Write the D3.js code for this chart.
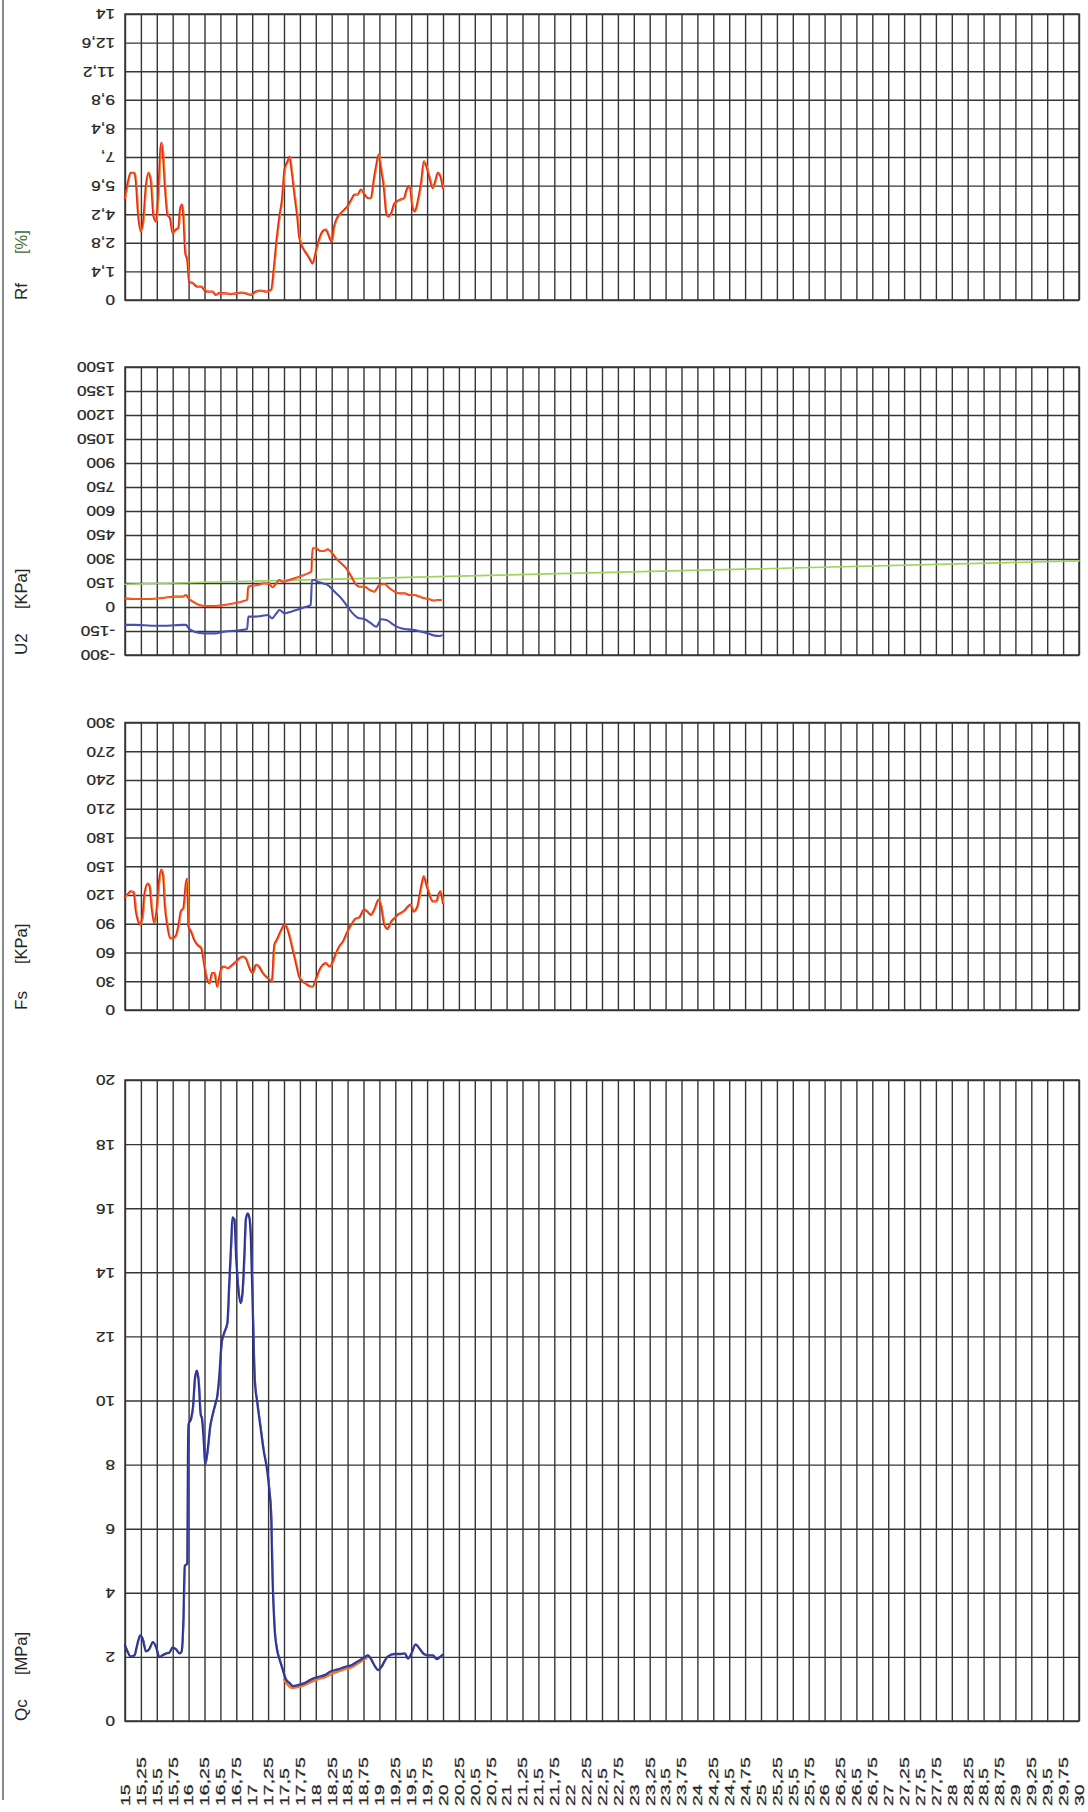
<!DOCTYPE html>
<html><head><meta charset="utf-8">
<script src="https://cdn.jsdelivr.net/npm/d3@7"></script>
<style>html,body{margin:0;padding:0;background:#fff}svg{display:block}</style>
</head><body>
<svg id="c" width="1088" height="1812"></svg>
<script>
// ---------- tick values & labels ----------
const depthTicks = [15,15.25,15.5,15.75,16,16.25,16.5,16.75,17,17.25,17.5,17.75,18,18.25,18.5,18.75,19,19.25,19.5,19.75,20,20.25,20.5,20.75,21,21.25,21.5,21.75,22,22.25,22.5,22.75,23,23.25,23.5,23.75,24,24.25,24.5,24.75,25,25.25,25.5,25.75,26,26.25,26.5,26.75,27,27.25,27.5,27.75,28,28.25,28.5,28.75,29,29.25,29.5,29.75,30];
const depthTickLabels = ["15","15,25","15,5","15,75","16","16,25","16,5","16,75","17","17,25","17,5","17,75","18","18,25","18,5","18,75","19","19,25","19,5","19,75","20","20,25","20,5","20,75","21","21,25","21,5","21,75","22","22,25","22,5","22,75","23","23,25","23,5","23,75","24","24,25","24,5","24,75","25","25,25","25,5","25,75","26","26,25","26,5","26,75","27","27,25","27,5","27,75","28","28,25","28,5","28,75","29","29,25","29,5","29,75","30"];

const rfTicks = [0,1.4,2.8,4.2,5.6,7,8.4,9.8,11.2,12.6,14];
const rfTickLabels = ["0","1,4","2,8","4,2","5,6","7,","8,4","9,8","11,2","12,6","14"];
const u2Ticks = [-300,-150,0,150,300,450,600,750,900,1050,1200,1350,1500];
const u2TickLabels = ["-300","-150","0","150","300","450","600","750","900","1050","1200","1350","1500"];
const fsTicks = [0,30,60,90,120,150,180,210,240,270,300];
const fsTickLabels = ["0","30","60","90","120","150","180","210","240","270","300"];
const qcTicks = [0,2,4,6,8,10,12,14,16,18,20];
const qcTickLabels = ["0","2","4","6","8","10","12","14","16","18","20"];

// ---------- series ----------
const rfDepth = [15.00,15.04,15.09,15.15,15.17,15.21,15.25,15.29,15.33,15.37,15.41,15.45,15.49,15.52,15.57,15.59,15.63,15.67,15.71,15.75,15.80,15.84,15.87,15.90,15.92,15.95,15.98,16.01,16.07,16.14,16.20,16.25,16.30,16.38,16.43,16.48,16.56,16.67,16.75,16.83,16.90,16.98,17.06,17.14,17.22,17.30,17.34,17.38,17.43,17.47,17.51,17.56,17.59,17.62,17.67,17.71,17.74,17.80,17.85,17.90,17.95,18.01,18.06,18.11,18.16,18.22,18.25,18.29,18.35,18.40,18.45,18.50,18.56,18.61,18.66,18.71,18.77,18.82,18.87,18.91,18.95,18.99,19.03,19.07,19.11,19.14,19.19,19.23,19.28,19.33,19.39,19.43,19.48,19.52,19.56,19.61,19.66,19.70,19.74,19.79,19.84,19.88,19.92,19.96,20.00];
const rfValue = [4.99,5.65,6.22,6.22,5.9,4.1,3.36,3.93,5.57,6.22,5.81,4.09,3.85,4.91,7.69,7.45,5.57,4.17,4.0,3.27,3.44,3.52,4.5,4.67,4.09,2.29,1.96,0.9,0.82,0.65,0.65,0.49,0.41,0.41,0.25,0.33,0.33,0.29,0.33,0.36,0.33,0.25,0.41,0.46,0.41,0.49,1.47,2.78,4.09,4.91,6.38,6.79,7.0,6.38,5.07,4.09,3.11,2.54,2.29,2.05,1.8,2.46,3.03,3.36,3.44,3.03,2.86,3.6,4.09,4.26,4.42,4.58,4.91,5.16,5.16,5.4,5.16,4.99,4.99,5.81,6.55,7.12,6.38,5.57,4.26,4.09,4.26,4.67,4.83,4.91,4.99,5.4,5.57,4.58,4.34,4.91,5.81,6.79,6.55,5.98,5.48,5.81,6.22,6.06,5.48];

const u2Depth = [15.00,15.15,15.30,15.46,15.62,15.78,15.91,15.96,16.00,16.07,16.17,16.27,16.41,16.56,16.72,16.83,16.92,16.94,16.98,17.09,17.19,17.27,17.32,17.38,17.43,17.48,17.56,17.67,17.77,17.88,17.93,17.95,18.01,18.06,18.13,18.19,18.24,18.32,18.40,18.48,18.56,18.62,18.69,18.77,18.85,18.92,19.00,19.08,19.16,19.24,19.32,19.40,19.48,19.55,19.63,19.71,19.79,19.87,19.92,19.97];
const u2Value = [54,50,50,52,58,65,65,75,54,33,12,6,6,12,23,33,44,127,131,137,148,144,123,148,169,158,165,179,194,210,221,367,367,352,350,360,346,304,273,242,190,148,127,127,106,96,137,144,117,96,85,85,75,75,65,54,48,40,44,44];
const u2bDepth = [15.00,15.15,15.30,15.46,15.62,15.78,15.91,15.96,16.00,16.09,16.25,16.41,16.56,16.72,16.83,16.92,16.94,17.04,17.14,17.25,17.31,17.38,17.43,17.51,17.61,17.72,17.82,17.92,17.94,17.99,18.03,18.11,18.19,18.27,18.35,18.43,18.50,18.58,18.66,18.77,18.87,18.95,19.03,19.11,19.19,19.27,19.34,19.45,19.55,19.66,19.76,19.87,19.95,19.98];
const u2bValue = [-112,-112,-114,-117,-117,-114,-112,-112,-133,-154,-165,-165,-154,-148,-144,-137,-60,-60,-56,-50,-71,-40,-19,-40,-29,-15,-2,12,169,169,158,148,137,106,75,40,2,-40,-67,-77,-102,-123,-77,-81,-102,-123,-133,-140,-144,-154,-165,-179,-181,-177];
const u0Depth = [15, 30];
const u0Value = [142, 288];

const fsDepth = [15.00,15.04,15.09,15.14,15.17,15.21,15.24,15.28,15.31,15.36,15.39,15.42,15.46,15.50,15.54,15.57,15.60,15.63,15.67,15.71,15.75,15.80,15.84,15.88,15.92,15.96,15.98,16.00,16.04,16.09,16.14,16.20,16.24,16.27,16.33,16.37,16.41,16.45,16.48,16.52,16.56,16.62,16.69,16.75,16.80,16.85,16.90,16.96,17.01,17.06,17.11,17.17,17.25,17.31,17.35,17.39,17.46,17.51,17.55,17.59,17.64,17.69,17.74,17.80,17.85,17.90,17.95,18.01,18.06,18.11,18.16,18.22,18.27,18.32,18.37,18.43,18.50,18.56,18.62,18.69,18.76,18.81,18.87,18.92,18.99,19.03,19.08,19.13,19.19,19.24,19.29,19.34,19.40,19.45,19.49,19.54,19.60,19.63,19.67,19.70,19.74,19.79,19.84,19.90,19.93,19.96,20.00];
const fsValue = [118.6,120.3,123.8,122.8,104.6,92.4,89,99.4,122,131.8,129,108,90.7,104.6,136,146.5,141,108,87.2,75,75,77.4,87.2,102.9,106.4,132.5,136.7,87.2,82,73.2,68,64.5,50.6,38.4,27.9,38.4,38.4,24.4,33.1,43.6,45.3,43.6,47,50.6,54,55.8,54,43.6,38.4,47,45.3,38.4,33.1,29.6,68,73.2,83.7,89,85.5,76.7,62.8,48.8,34.9,29.6,27.2,25.1,24.4,33.1,41.9,47,48.8,45.3,50.6,59.3,66.3,71.5,82,89,94.9,97,104.6,102.9,99.4,104.6,115.1,108,89,84.8,92.4,95.9,99.4,101.2,103.9,108,109.9,102.9,108,118.6,132.5,139.5,130.8,120.3,113.4,113.4,120.3,123.8,111.6];

const qcDepth = [15.00,15.04,15.09,15.15,15.19,15.24,15.28,15.33,15.38,15.44,15.49,15.54,15.59,15.65,15.70,15.75,15.80,15.86,15.89,15.92,15.94,15.98,15.99,16.00,16.04,16.07,16.10,16.13,16.16,16.19,16.21,16.24,16.26,16.30,16.34,16.38,16.42,16.45,16.48,16.52,16.56,16.61,16.64,16.67,16.69,16.72,16.75,16.78,16.82,16.85,16.88,16.90,16.93,16.96,16.98,17.01,17.04,17.08,17.13,17.18,17.24,17.27,17.30,17.32,17.35,17.39,17.43,17.48,17.53,17.59,17.64,17.72,17.82,17.93,18.03,18.14,18.24,18.35,18.45,18.56,18.66,18.77,18.82,18.87,18.92,18.98,19.03,19.08,19.13,19.24,19.34,19.40,19.45,19.50,19.57,19.63,19.70,19.76,19.84,19.90,19.95,20.00];
const qcValue = [2.36,2.17,2.01,2.05,2.36,2.67,2.55,2.17,2.24,2.46,2.30,1.99,2.05,2.11,2.14,2.30,2.24,2.11,2.17,3.23,4.84,4.91,8.2,9.25,9.44,9.81,10.68,10.93,10.56,9.57,9.44,8.70,8.01,8.45,9.19,9.57,9.88,10.12,10.68,11.80,12.11,12.42,13.66,14.91,15.71,15.65,14.41,13.54,13.04,13.42,14.66,15.65,15.84,15.65,15.03,12.80,10.68,9.94,9.19,8.45,7.76,7.20,6.34,4.47,2.98,2.24,1.93,1.61,1.30,1.18,1.09,1.12,1.18,1.30,1.37,1.43,1.55,1.61,1.68,1.74,1.86,1.99,2.05,1.93,1.74,1.59,1.68,1.86,2.01,2.09,2.09,2.11,1.95,2.09,2.39,2.26,2.09,2.05,2.05,1.93,1.99,2.07];
const qcRedDepth = [17.50,17.56,17.62,17.70,17.82,17.93,18.03,18.14,18.24,18.35,18.45,18.56,18.66,18.77,18.82];
const qcRedValue = [1.30,1.12,1.03,1.05,1.12,1.22,1.30,1.36,1.46,1.54,1.61,1.67,1.79,1.93,2.0];

// ---------- layout ----------
const L = 125, R = 1079;
const gridColor = "#363636";
const textColor = "#262626";
const FONT = "'Liberation Sans', Arial, Helvetica, sans-serif";
const svg = d3.select("#c");
const x = d3.scaleLinear().domain([15, 30]).range([L, R]);

const panels = [
  {name:"Rf", unit:"[%]", top:14, bottom:300, ticks:rfTicks, labels:rfTickLabels},
  {name:"U2", unit:"[KPa]", top:367, bottom:655, ticks:u2Ticks, labels:u2TickLabels},
  {name:"Fs", unit:"[KPa]", top:722.5, bottom:1010, ticks:fsTicks, labels:fsTickLabels},
  {name:"Qc", unit:"[MPa]", top:1080, bottom:1721, ticks:qcTicks, labels:qcTickLabels}
];

// left border
svg.append("line").attr("x1",3).attr("x2",3).attr("y1",0).attr("y2",1800)
  .attr("stroke","#8a8a8a").attr("stroke-width",2);

panels.forEach(p => {
  p.y = d3.scaleLinear().domain([p.ticks[0], p.ticks[p.ticks.length-1]]).range([p.bottom, p.top]);
  const g = svg.append("g");
  // vertical grid lines
  g.append("g").attr("transform", `translate(0,${p.bottom})`)
    .call(d3.axisBottom(x).tickValues(depthTicks).tickSize(-(p.bottom - p.top)).tickFormat(""))
    .call(a => a.select(".domain").remove())
    .call(a => a.selectAll("line").attr("stroke", gridColor).attr("stroke-width", 1.4));
  // horizontal grid lines + upside-down tick labels
  g.append("g").attr("transform", `translate(${L},0)`)
    .call(d3.axisLeft(p.y).tickValues(p.ticks).tickSize(-(R - L)).tickPadding(0)
      .tickFormat((d, i) => p.labels[i]))
    .call(a => a.select(".domain").remove())
    .call(a => a.selectAll("line").attr("stroke", gridColor).attr("stroke-width", 1.4))
    .call(a => a.selectAll("text")
      .attr("x", null).attr("dy", null)
      .attr("text-anchor", "start")
      .attr("dominant-baseline", "central")
      .attr("font-family", FONT).attr("font-size", 14.5)
      .attr("fill", textColor).attr("stroke", textColor).attr("stroke-width", 0.25)
      .attr("transform", "translate(-10,0) scale(1.18,1) rotate(180)"));
  // frame
  g.append("rect").attr("x", L).attr("y", p.top).attr("width", R - L).attr("height", p.bottom - p.top)
    .attr("fill", "none").attr("stroke", gridColor).attr("stroke-width", 1.5);
  // panel title (vertical)
  g.append("text").attr("transform", `translate(21,${p.bottom}) rotate(-90)`)
    .attr("text-anchor", "start").attr("dominant-baseline", "central")
    .attr("font-family", FONT).attr("font-size", 17).attr("fill", textColor).text(p.name);
  g.append("text").attr("transform", `translate(21,${p.bottom - 46}) rotate(-90)`)
    .attr("text-anchor", "start").attr("dominant-baseline", "central")
    .attr("font-family", FONT).attr("font-size", 16.5)
    .attr("fill", p.name === "Rf" ? "#3f6a36" : textColor).text(p.unit);
});

// depth axis labels (vertical, bottom)
svg.append("g").attr("transform", "translate(0,1806)")
  .call(d3.axisBottom(x).tickValues(depthTicks).tickSize(0).tickPadding(0)
    .tickFormat((d, i) => depthTickLabels[i]))
  .call(a => a.select(".domain").remove())
  .call(a => a.selectAll("text")
    .attr("y", null).attr("dy", null)
    .attr("text-anchor", "start").attr("dominant-baseline", "central")
    .attr("font-family", FONT).attr("font-size", 13).attr("fill", textColor)
    .attr("stroke", textColor).attr("stroke-width", 0.25)
    .attr("transform", "scale(1,1.5) rotate(-90)"));

// ---------- curves ----------
function drawLine(panel, depths, values, color, width, dx) {
  const line = d3.line().x(d => x(d[0]) + (dx || 0)).y(d => panel.y(d[1])).curve(d3.curveMonotoneX);
  svg.append("path").datum(d3.zip(depths, values)).attr("d", line)
    .attr("fill", "none").attr("stroke", color).attr("stroke-width", width)
    .attr("stroke-linejoin", "round").attr("stroke-linecap", "round");
}
const [pRf, pU2, pFs, pQc] = panels;

// hydrostatic reference line
drawLine(pU2, u0Depth, u0Value, "#9fd45e", 1.6);

drawLine(pRf, rfDepth, rfValue, "#e5261d", 2.3);
drawLine(pRf, rfDepth, rfValue, "#f7a21e", 0.8, 0.8);

drawLine(pU2, u2Depth, u2Value, "#e8361f", 2.1);
drawLine(pU2, u2Depth, u2Value, "#f6a020", 0.6, 0.8);
drawLine(pU2, u2bDepth, u2bValue, "#4b4fae", 2.1);

drawLine(pFs, fsDepth, fsValue, "#e5261d", 2.3);
drawLine(pFs, fsDepth, fsValue, "#f7a21e", 0.8, 0.8);

drawLine(pQc, qcRedDepth, qcRedValue, "#f07a2a", 2.3);
drawLine(pQc, qcDepth, qcValue, "#2a2d86", 2.3);
drawLine(pQc, qcDepth, qcValue, "#4a55c8", 0.7, 0.6);
</script>
</body></html>
